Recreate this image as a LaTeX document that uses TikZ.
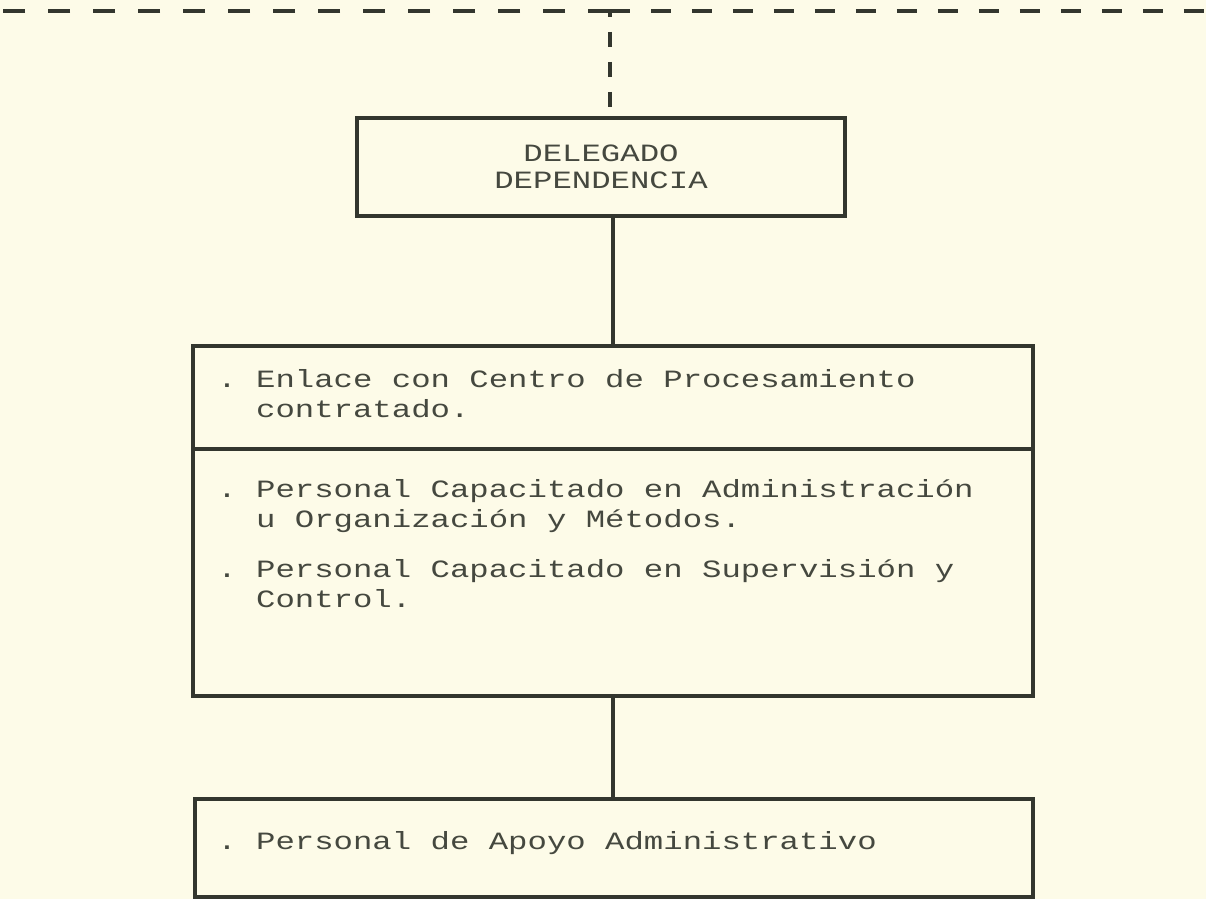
\documentclass[tikz,border=0pt]{standalone}
\usepackage{fontspec}
\newfontfamily\maquina[FakeStretch=1.3]{Liberation Mono}
\usetikzlibrary{calc}

\begin{document}
\begin{tikzpicture}[x=0.02cm, y=-0.02cm,
		caja/.style={draw=tinta, line width=2.2pt, inner sep=0pt},
		texto/.style={text=letra, align=left, inner sep=0pt, anchor=north west,
			font=\maquina\fontsize{14.15pt}{17pt}\selectfont},
		linea/.style={draw=tinta, line width=2.2pt},
		rayas/.style={draw=tinta, line width=2pt}]
		
		% Color definitions
		\definecolor{papel}{HTML}{FDFBE8}
		\definecolor{tinta}{HTML}{33362E}
		\definecolor{letra}{HTML}{45483F}
		
		% Sheet
		\fill[papel] (0,0) rectangle (1206,899);
		\useasboundingbox (0,0) rectangle (1206,899);
		
		% --- Nodes ---
		% Delegado
		\node[caja, minimum width=9.76cm, minimum height=1.96cm, text=letra,
		align=center, font=\maquina\fontsize{14.15pt}{15.3pt}\selectfont]
		(delegado) at (601, 167) {DELEGADO\\DEPENDENCIA};
		
		% Enlace
		\node[caja, minimum width=16.8cm, minimum height=2.06cm]
		(enlace) at (613, 397.5) {};
		\node[texto] (txtenlace) at (217, 369)
		{.~Enlace con Centro de Procesamiento\\
			\hphantom{.~}contratado.};
		
		% Personal capacitado
		\node[caja, minimum width=16.8cm, minimum height=4.94cm]
		(personal) at (613, 572.5) {};
		\node[texto] (txtpersonal) at (217, 479)
		{.~Personal Capacitado en Administración\\
			\hphantom{.~}u Organización y Métodos.\\[11.4pt]
			.~Personal Capacitado en Supervisión y\\
			\hphantom{.~}Control.};
		
		% Apoyo
		\node[caja, minimum width=16.76cm, minimum height=1.96cm]
		(apoyo) at (614, 848) {};
		\node[texto] (txtapoyo) at (217, 831)
		{.~Personal de Apoyo Administrativo};
		
		% --- Connectors ---
		\coordinate (cruce) at (610, 11);
		\coordinate (bordeizq) at (0, 11);
		\coordinate (bordeder) at (1206, 11);
		
		\draw[rayas, dash pattern=on 0.44cm off 0.46cm] (cruce) -- (bordeizq);
		\draw[rayas, dash pattern=on 0.40cm off 0.42cm] (cruce) -- (bordeder);
		\draw[rayas, dash pattern=on 0.3cm off 0.3cm, dash phase=0.18cm]
		(cruce) -- (cruce |- delegado.north);
		
		\draw[linea] (delegado.south -| enlace.north) -- (enlace.north);
		\draw[linea] (personal.south) -- (apoyo.north -| personal.south);
		
	\end{tikzpicture}
\end{document}
